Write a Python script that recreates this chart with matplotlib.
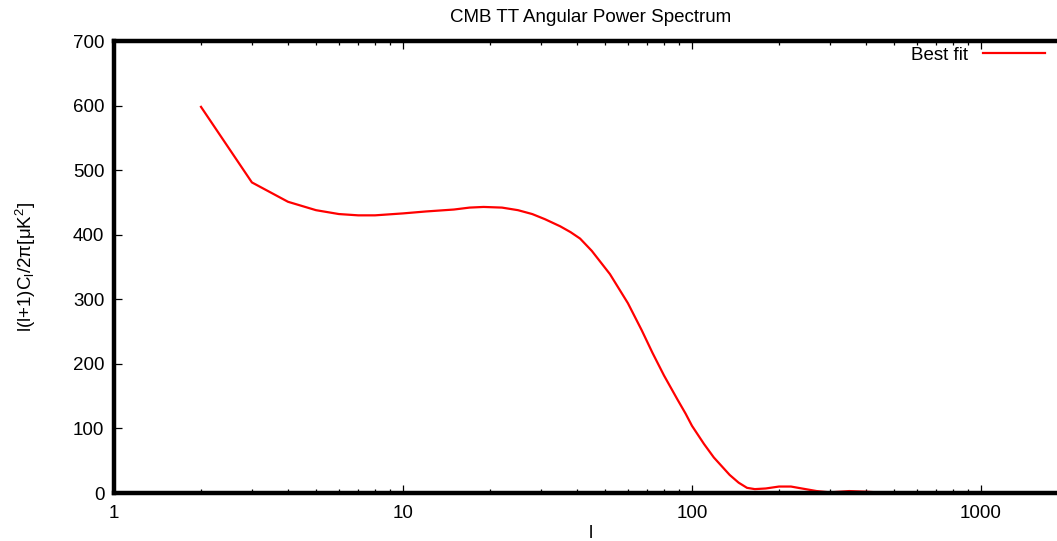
import numpy as np
import matplotlib
matplotlib.use("Agg")
import matplotlib.pyplot as plt
from matplotlib.ticker import LogLocator, NullFormatter, FixedLocator

plt.rcParams['font.family'] = ['Liberation Sans', 'DejaVu Sans']
plt.rcParams['mathtext.fontset'] = 'custom'
plt.rcParams['mathtext.rm'] = 'Liberation Sans'
plt.rcParams['mathtext.it'] = 'Liberation Sans'

# multipole l and l(l+1)C_l/2pi
ell = [2, 3, 4, 5, 6, 7, 8, 10, 12, 15, 17, 19, 22, 25, 28, 31, 35, 38, 41, 45,
       52, 60, 67, 73, 80, 89, 95, 100, 110, 119, 135, 145, 155, 165, 180, 200,
       220, 240, 270, 300, 350, 400, 440]
cl = [598, 481, 451, 438, 432, 430, 430, 433, 436, 439, 442, 443, 442, 438, 432,
      424, 413, 404, 394, 375, 339, 294, 252, 217, 182, 145, 123, 104, 76, 55, 28,
      16, 8, 6, 7, 10, 10, 7, 3, 1, 3, 2, 1]

yticks = [0, 100, 200, 300, 400, 500, 600, 700]
xticks = [1, 10, 100, 1000]
xticklabels = ["1", "10", "100", "1000"]

W, H = 1057, 541
fig = plt.figure(figsize=(W / 100, H / 100), dpi=100)
ax = fig.add_axes([114 / W, (H - 493) / H, (1068 - 114) / W, (493 - 41) / H])

ax.plot(ell, cl, color="#ff0000", lw=1.6, label="Best fit")

ax.set_xscale("log")
ax.set_xlim(1, 2000)
ax.set_ylim(0, 700)
ax.xaxis.set_major_locator(FixedLocator(xticks))
ax.set_xticklabels(xticklabels)
ax.xaxis.set_minor_locator(LogLocator(base=10, subs=np.arange(2, 10)))
ax.xaxis.set_minor_formatter(NullFormatter())
ax.set_yticks(yticks)
ax.set_yticklabels([str(v) for v in yticks])

for s in ax.spines.values():
    s.set_linewidth(3.2)
ax.tick_params(which="both", direction="in", top=True, right=True,
               labelsize=13.5, width=0.9, color="black")
ax.tick_params(which="major", length=6, pad=7)
ax.tick_params(which="minor", length=3)
ax.tick_params(axis="x", pad=9)

fig.text(591 / W, 1 - 17 / H, "CMB TT Angular Power Spectrum", ha="center",
         va="center", fontsize=13.5)
ax.set_xlabel("l", fontsize=13.5, va="center")
ax.xaxis.set_label_coords(0.5, (493 - 533) / 452)
ax.set_ylabel(r"l(l+1)C$_\mathregular{l}$/2π[μK$^\mathregular{2}$]", fontsize=13.5,
              va="center")
ax.yaxis.set_label_coords((26 - 114) / 954, 0.5)

ax.legend(loc="center right", bbox_to_anchor=(1045 / W, 1 - 55 / H),
          bbox_transform=fig.transFigure, frameon=False, markerfirst=False,
          handlelength=3.3, handletextpad=0.8, fontsize=13.5,
          borderpad=0, borderaxespad=0)

fig.savefig("out.png", dpi=100)
